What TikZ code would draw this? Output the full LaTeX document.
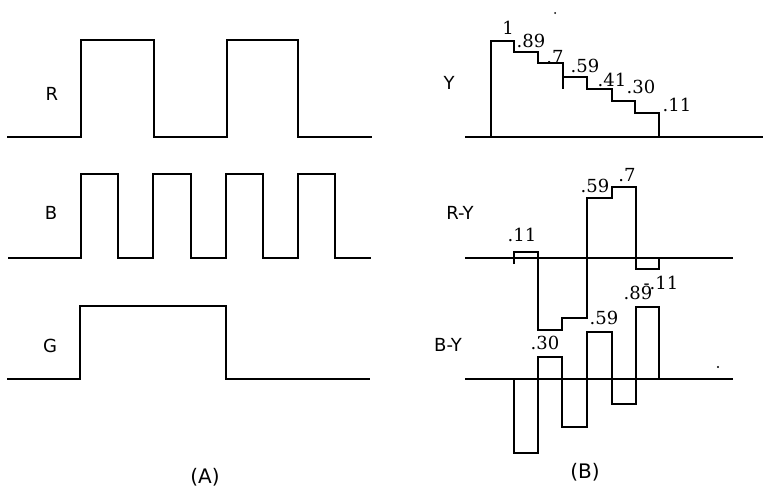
\documentclass[tikz,border=0pt]{standalone}
\usepackage{fontspec}
\setmainfont{DejaVu Sans}
\newfontfamily\numfont{DejaVu Serif}
\begin{document}
\begin{tikzpicture}[x=1pt,y=-1pt,
  wave/.style={line width=2.6pt,line join=miter,line cap=butt},
  axisline/.style={line width=2.4pt},
  lbl/.style={font=\fontsize{18}{20}\selectfont,inner sep=0pt},
  captxt/.style={font=\fontsize{20}{22}\selectfont,inner sep=0pt},
  val/.style={font=\numfont\fontsize{18}{20}\selectfont,inner sep=0pt}]
\useasboundingbox (0,0) rectangle (765,496);
% ---------- (A) ----------
\draw[wave] (7,137) -- (81,137) -- (81,40) -- (154,40) -- (154,137) -- (227,137) -- (227,40) -- (298,40) -- (298,137) -- (372,137);
\draw[wave] (8,258) -- (81,258) -- (81,174) -- (118,174) -- (118,258) -- (153,258) -- (153,174) -- (191,174) -- (191,258) -- (226,258) -- (226,174) -- (263,174) -- (263,258) -- (298,258) -- (298,174) -- (335,174) -- (335,258) -- (371,258);
\draw[wave] (7,379) -- (80,379) -- (80,306) -- (226,306) -- (226,379) -- (370,379);
\node[lbl] (lR) at (52,94) {R};
\node[lbl] (lB) at (51,213) {B};
\node[lbl] (lG) at (50,346) {G};
\node[captxt] (capA) at (205,477) {(A)};
% ---------- (B) : Y ----------
\draw[axisline] (465,137) -- (763,137);
\draw[wave] (491,137) -- (491,41) -- (514,41) -- (514,52) -- (538,52) -- (538,63) -- (563,63) -- (563,77) -- (587,77) -- (587,89) -- (612,89) -- (612,101) -- (635,101) -- (635,113) -- (659,113) -- (659,137);
\draw[wave] (563,77) -- (563,89);
\node[lbl] (lY) at (449,83) {Y};
\node[val] (y1) at (508,28) {1};
\node[val] (y2) at (531,41) {.89};
\node[val] (y3) at (555,57) {.7};
\node[val] (y4) at (585,66) {.59};
\node[val] (y5) at (612,80) {.41};
\node[val] (y6) at (641,87) {.30};
\node[val] (y7) at (677,105) {.11};
% ---------- R-Y ----------
\draw[axisline] (465,258) -- (733,258);
\draw[wave] (514,264) -- (514,252) -- (538,252) -- (538,330) -- (562,330) -- (562,318) -- (587,318) -- (587,198) -- (612,198) -- (612,187) -- (636,187) -- (636,269) -- (659,269) -- (659,258);
\node[lbl] (lRY) at (460,213) {R-Y};
\node[val] (r1) at (522,235) {.11};
\node[val] (r2) at (595,186) {.59};
\node[val] (r3) at (627,175) {.7};
\node[val] (r4) at (661,283) {-.11};
% ---------- B-Y ----------
\draw[axisline] (465,379) -- (733,379);
\draw[wave] (514,379) -- (514,453) -- (538,453) -- (538,357) -- (562,357) -- (562,427) -- (587,427) -- (587,332) -- (612,332) -- (612,404) -- (636,404) -- (636,307) -- (659,307) -- (659,379);
\node[lbl] (lBY) at (448,345) {B-Y};
\node[val] (b1) at (545,343) {.30};
\node[val] (b2) at (604,318) {.59};
\node[val] (b3) at (638,293) {.89};
\node[captxt] (capB) at (585,472) {(B)};
\fill (718,367) circle (1.2);
\fill (555,13) circle (1);
\end{tikzpicture}
\end{document}
